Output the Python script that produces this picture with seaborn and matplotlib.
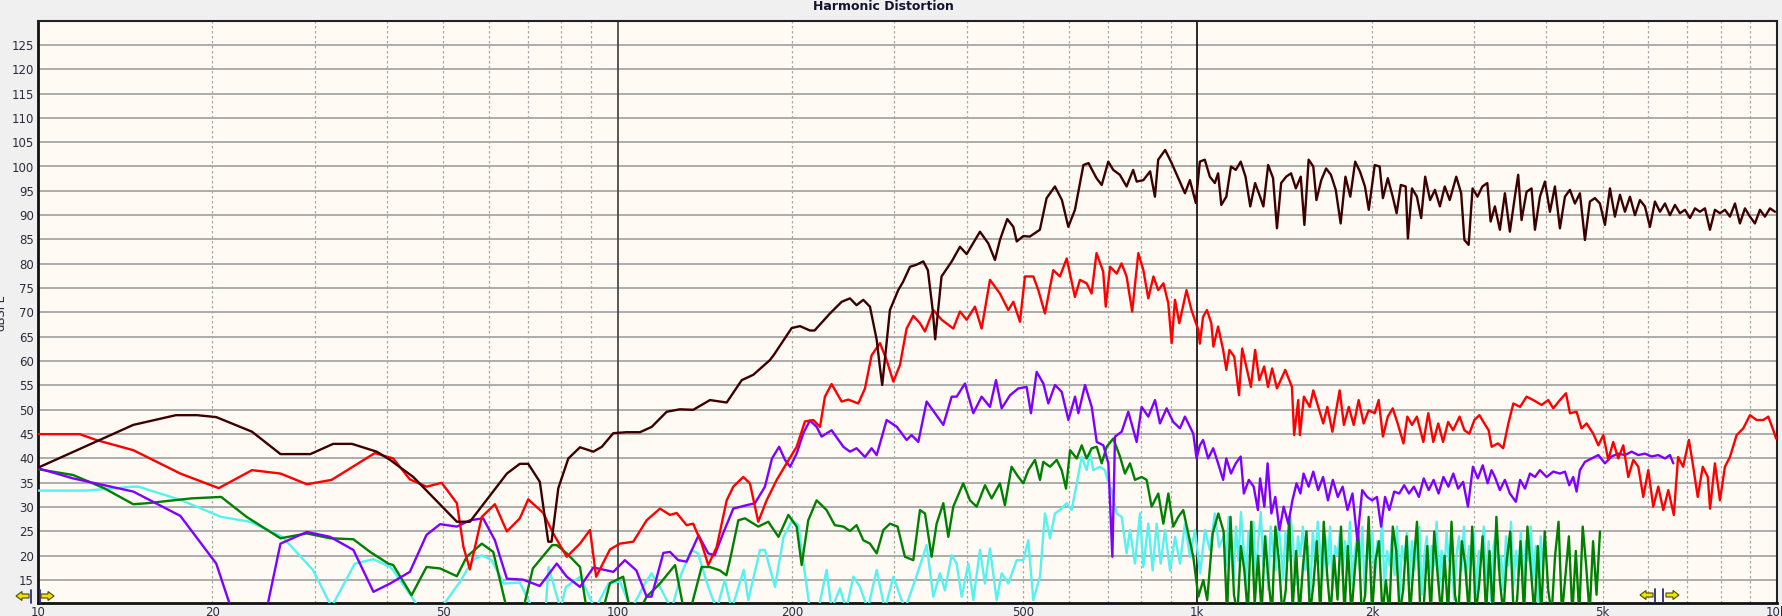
import numpy as np
import pandas as pd
import matplotlib
matplotlib.use("Agg")
import matplotlib.pyplot as plt
import seaborn as sns
from matplotlib.patches import Polygon
from matplotlib.lines import Line2D

# ---------------- data ----------------
x_ticks = [10, 20, 50, 100, 200, 500, 1000, 2000, 5000, 10000]
x_labels = ["10", "20", "50", "100", "200", "500", "1k", "2k", "5k", "10k"]
y_ticks = list(range(15, 130, 5))

# Fundamental (dark brown)
fund_f = [10, 14.6, 17.3, 18.8, 20.3, 23.4, 26.2, 29.5, 32.3, 34.8, 38.4, 40.5, 44.4, 52.8, 55.6, 64.4, 67.8,
          70.1, 73.4, 75.9, 76.9, 79, 82.2, 86.1, 90.8, 93.9, 98.3, 103.6, 109.3, 114.5, 121.5, 128, 135,
          144.3, 154.2, 163.7, 171.4, 183, 186, 199.6, 206.3, 214.6, 218.6, 232.4, 243.5, 251.6, 258.3,
          265.3, 272.4, 279.8, 283.3, 286, 289, 294.9, 304.8, 310.7, 319.4, 327.5, 336.7, 342.9, 349.5,
          353, 362, 377, 389.5, 400, 421.7, 435.9, 447.6, 456.5, 470, 481.5, 488, 501, 514, 535, 549.5,
          568, 584, 599, 615, 636, 649, 670, 684, 702, 716, 735, 755, 775, 786, 807, 829, 845, 856, 880,
          903, 927, 952, 971, 994]
fund_db = [38.1, 46.9, 48.9, 48.9, 48.5, 45.5, 40.9, 40.9, 43, 43, 41.4, 39.7, 36.2, 27, 27, 36.9, 38.9,
           38.9, 35.2, 22.9, 22.9, 33.9, 40, 42.3, 41.4, 42.4, 45.2, 45.4, 45.4, 46.5, 49.6, 50.1, 50,
           52, 51.5, 56.1, 57.2, 60.2, 61.3, 66.8, 67.2, 66.3, 66.3, 69.8, 72.2, 72.9, 71.5,
           72.6, 71.2, 64.4, 58.9, 55.1, 60.2, 70.5, 74.6, 76.3, 79.4, 79.8, 80.5, 78.7, 70.5,
           64.5, 77.4, 80.5, 83.5, 82, 86.6, 84.2, 80.8, 84.9, 89.2, 87.6, 84.6, 85.7, 85.6, 87, 93.5,
           95.9, 93.1, 87.6, 91.1, 100.3, 100.7, 97.6, 96.2, 101, 99.3, 98.3, 95.9, 99.3, 96.9, 97.2, 99,
           93.8, 101.4, 103.4, 100.7, 97.6, 94.5, 97.2, 92.5]
fund_hf_f = [1010, 1030, 1051, 1072, 1086, 1100, 1122, 1143, 1165, 1188, 1211, 1234, 1258, 1283, 1300,
             1325, 1351, 1372, 1395, 1423, 1451, 1479, 1508, 1530, 1556, 1585, 1605, 1636, 1668, 1700,
             1733, 1767, 1801, 1836, 1872, 1909, 1946, 1976, 2023, 2063, 2090, 2131, 2173, 2207, 2244,
             2288, 2308, 2346, 2392, 2433, 2472, 2521, 2570, 2621, 2672, 2725, 2797, 2852, 2889, 2938,
             2984, 3043, 3103, 3164, 3206,
             3261, 3326, 3393, 3461, 3530, 3577, 3625, 3698, 3772, 3823, 3900, 3978, 4058, 4139, 4222,
             4307, 4393, 4481, 4571, 4663, 4756, 4852, 4949, 5049, 5150, 5253, 5359, 5466, 5576, 5688,
             5802, 5918, 6037, 6158, 6282, 6408, 6536, 6667, 6801, 6937, 7077, 7219, 7363, 7511, 7662,
             7815, 7972, 8132, 8295, 8462, 8631, 8805, 8981, 9161, 9345, 9532, 9724, 9919]
fund_hf_db = [101, 101.4, 97.9, 96.6, 98.6, 92.1, 93.8, 100, 99.3, 101, 97.9, 91.8, 96.6, 93.8, 91.8,
              100.3, 97.6, 87.3, 96.6, 97.9, 98.6, 95.5, 97.9, 88, 101.4, 100, 93.1, 97.2, 99.6, 98.3,
              95.2, 88.3, 97.9, 93.8, 101, 98.9, 95.9, 91.1, 100.3, 100, 93.5, 97.6, 93.8, 90.4, 96.2,
              95.9, 85.2, 95.5, 93.8, 89.4, 97.9, 93.1, 95.2, 91.8, 95.9, 93.1, 97.9, 94.5, 84.9, 83.9,
              95.5, 93.8, 95.9, 96.6, 88.7,
              91.8, 87, 94.5, 86.6, 93.8, 98.3, 89, 94.8, 95.5, 87, 93.8, 96.9, 90.7, 95.9, 87.3,
              93.8, 95.2, 92.4, 94.5, 84.9, 92.8, 93.5, 92.4, 88, 95.5, 89.7, 94.2, 90.7, 93.8, 90,
              93.1, 91.8, 87.6, 92.8, 90.7, 92.4, 90, 92.1, 90.4, 91.1, 89.4, 91.4, 90.7, 91.4, 87,
              91.1, 90.4, 91.1, 89.7, 92.4, 88.3, 91.4, 89.7, 88.3, 91.1, 89.7, 91.4, 90.7]

# 2nd harmonic (red)
h2_f = [10, 11.8, 12.6, 14.6, 17.6, 20.5, 23.4, 26.2, 29.1, 32.1, 38.1, 41, 43.8, 46.8, 49.7, 52.8, 54.2,
        55.6, 58.3, 61.4, 64.4, 67.8, 70.1, 74.4, 77.4, 81.7, 86.1, 89.6, 91.8, 97, 100.9, 106.4, 112.2,
        118.3, 123.1, 126.4, 131.5, 135, 139.6, 143.3, 148.2, 154.2, 158.3, 164.7, 169.1, 174.8, 180.7,
        188.1, 195.6, 203.6, 210.4, 217.5, 223.4, 227.8, 233.9, 243.4, 249.9, 260.1, 267.1, 274.2,
        283.5, 291.1, 298.9, 306.9, 315.1, 323.6, 332.3, 338.9, 350.4, 362.2, 379.3, 389.5, 400, 413.4,
        424.5, 438.8, 456.5, 472, 481.5, 494.3, 504.2, 521.2, 531.7, 545.9, 564.3, 579.4, 595.2, 614.9,
        627.3, 644.2, 657, 670, 688, 695, 707, 726, 740, 755, 772, 791, 807, 823, 840, 856, 874, 891,
        903, 915, 931, 958, 977, 1004]
h2_db = [45, 45, 43.8, 41.7, 36.9, 33.9, 37.6, 36.9, 34.7, 35.6, 41.1, 40, 35.7, 34.2, 35, 30.8, 21.8,
         17.2, 28, 30.6, 25, 27.7, 31.6, 28.8, 24.6, 19.8, 22.5, 25.3, 15.7, 21.3, 22.5, 22.9, 27.3,
         29.7, 28.4, 28.8, 26.3, 26.6, 22.5, 18.1, 21.8, 31.4, 34.2, 36.2, 34.9, 27, 31.4,
         35.6, 39, 42.4, 47.6, 47.9, 46.5, 52.7, 55.3, 51.7, 52.1, 51.3, 54.4, 61.2,
         63.7, 60.2, 55.8, 59.2, 66.7, 69.3, 67.8, 66.1, 70.5, 68.5, 66.7, 70.2, 68.5, 71.2,
         66.7, 76.7, 73.9, 70.5, 72.2, 68.1, 77.4, 77.4, 74.6, 69.8, 78.7, 77.4, 81.1, 73.2,
         76.7, 76, 73.9, 82.2, 78.4, 71.2, 79.4, 78, 80.1, 77.4, 70.2, 82.2, 78.7, 72.9, 77.4, 74.6, 76, 71.9,
         63.7, 72.6, 67.8, 74.6, 70.5, 66.4]
h2_hf_f = [1010, 1023, 1039, 1057, 1066, 1086, 1108, 1122, 1136, 1158, 1180, 1195, 1218, 1237, 1258,
           1279, 1304, 1324, 1346, 1372, 1418, 1456, 1469, 1493, 1503, 1527, 1563, 1585, 1623, 1649,
           1676, 1710, 1744, 1760, 1790, 1825, 1861, 1898, 1936, 1975, 2023, 2055, 2090, 2131, 2173,
           2216, 2268, 2303, 2346, 2392, 2454, 2503, 2553, 2604, 2654, 2708, 2762, 2834, 2889, 2946,
           3006, 3066, 3127, 3181, 3219,
           3301, 3370, 3440, 3509, 3604, 3698, 3798, 3926, 4030, 4112, 4222, 4325, 4393, 4511, 4600,
           4694, 4819, 4918, 5016, 5116, 5218, 5323, 5430, 5539, 5650, 5764, 5879, 5997, 6117, 6240,
           6366, 6493, 6637, 6751, 6888, 7047, 7155, 7299, 7446, 7596, 7665, 7815, 7972, 8132, 8295,
           8518, 8747, 8981, 9223, 9469, 9660, 9856, 9962]
h2_hf_db = [63.6, 69.1, 70.5, 67.8, 63, 67.1, 62.3, 58.2, 62.3, 60.9, 53, 62.6, 58.2, 54.7, 62.3,
            56.1, 58.9, 54.7, 58.5, 54.4, 58.2, 54.7, 44.8, 52, 44.8, 52.7, 50.6, 54, 49.9, 47.2,
            50.6, 45.5, 51.3, 54, 46.9, 50.6, 46.9, 52, 47.2, 49.9, 49.3, 52, 44.5, 48.6, 50.3,
            47.2, 43.1, 48.6, 46.9, 48.6, 43.4, 49.3, 43.4, 47.2, 43.4, 47.5, 45.8, 48.6, 45.8, 45.1,
            47.9, 48.9, 47.2, 45.8, 42.4,
            43.1, 42.1, 47.2, 51.3, 50.6, 52.7, 52, 51, 52, 50.3, 52, 53.4, 49.3, 49.6, 46.2,
            47.2, 45.1, 42.7, 44.8, 39.7, 43.4, 40, 42.7, 36.2, 39.7, 38.3, 32.1, 37.6, 30.1, 34.2,
            29.4, 33.5, 28.4, 40.3, 38.3, 43.8, 39, 32.1, 38.3, 36.2, 29.7, 39, 31.4, 38.3, 40.3,
            44.8, 46.2, 48.9, 47.9, 47.9, 48.6, 45.8, 44.1]

# 3rd harmonic (purple)
h3_f = [10, 11.5, 14.6, 17.6, 20.3, 21.7, 24.7, 26.2, 29.1, 31.9, 35, 37.9, 40.5, 43.8, 46.8, 49.4, 52.8,
        55.6, 58.6, 61.4, 64.4, 68.7, 73.4, 78.5, 81.7, 86.1, 90.8, 98.3, 102.9, 107.7, 112.2, 114.4,
        119.9, 123.1, 127.2, 131.5, 137.9, 143.3, 147, 152, 158.3, 166.9, 172.5, 179.5, 184.6, 189.9,
        194.4, 198.4, 203.6, 209.1, 214.6, 220.4, 224.8, 233.9, 245.1, 251.6, 258.3, 267.1, 274.2,
        279.8, 291.1, 303.1, 315.1, 321.4, 330.1, 341.2, 352.7, 364.6, 376.9, 384.4, 397.3, 410.7,
        424.5, 438.8, 449.4, 459.7, 475.2, 491.1, 507.6, 516.4, 528.2, 542.4, 553.3, 568.2, 583.4,
        599.2, 615.2, 623.4, 640.1, 657.3, 670.6, 688.5, 702.3, 713.5, 721.1, 740.4, 760.2, 785.8,
        801.5, 823, 845.3, 862, 885.1, 908.8, 933.3, 952, 984, 997]
h3_db = [38, 35.9, 33.2, 28.2, 18.4, 8, 8, 22.5, 24.9, 23.9, 21.2, 12.6, 14.3, 16.7, 24.3, 26.5, 26,
         27.3, 27.7, 23.2, 15.3, 15.1, 13.8, 18.4, 15.7, 13.6, 17.6, 16.7, 19.1, 17, 11.6, 11.6,
         20.6, 20.8, 19.1, 18.8, 24.2, 20.5, 20.1, 24.6, 29.7, 30.4, 30.8, 34.2, 40, 42.4,
         39.7, 38.3, 41, 45.2, 47.8, 46.5, 44.5, 45.8, 42.4, 41.4, 42.1, 40.3, 42.1,
         40.7, 47.9, 46.5, 43.8, 44.8, 43.4, 51.7, 49.3, 46.9, 52.7, 52.7, 55.4, 49.3,
         52.7, 50.6, 56.1, 50.3, 53, 54.4, 54.7, 49.3, 57.8, 55.4, 51.3, 55.1, 53.7,
         47.9, 52.7, 49.3, 55.1, 50.6, 43.4, 42.7, 39, 19.8, 44.5, 45.5, 49.6, 43.4,
         50.6, 48.6, 52, 47.2, 50.3, 47.5, 46.2, 48.6, 45.1, 40]
h3_hf_f = [1010, 1023, 1044, 1065, 1086, 1108, 1122, 1143, 1165, 1188, 1203, 1227, 1251, 1272, 1283,
           1305, 1322, 1342, 1363, 1386, 1409, 1435, 1459, 1483, 1506, 1525, 1556, 1585, 1616, 1648,
           1680, 1713, 1747, 1781, 1816, 1852, 1888, 1925, 1963, 2002, 2041, 2075, 2108, 2144, 2186,
           2230, 2274, 2318, 2364, 2411, 2458, 2507, 2556, 2607, 2658, 2711, 2764, 2818, 2874, 2930,
           2988, 3047, 3107, 3168, 3218,
           3261, 3326, 3393, 3461, 3544, 3604, 3675, 3748, 3823, 3900, 4004, 4112, 4222, 4307, 4381,
           4451, 4511, 4571, 4663, 4788, 4918, 5049, 5184, 5323, 5466, 5613, 5764, 5918, 6077, 6240,
           6408, 6536, 6624]
h3_hf_db = [42.7, 43.8, 40, 42.1, 39, 35.6, 40, 36.9, 39, 40.4, 32.8, 35.6, 34.2, 29.4, 35.9,
            30.1, 39, 28.7, 32.1, 25.3, 30.1, 26.6, 31.4, 34.9, 32.8, 36.9, 34.2, 37.3, 33.5, 36.2,
            31.4, 35.6, 32.1, 34.2, 29.4, 32.8, 23.2, 33.5, 32.1, 31.4, 32.1, 26, 32.1, 29.4, 33.2,
            32.8, 34.5, 32.8, 34.2, 32.1, 35.9, 33.5, 35.6, 32.8, 36.2, 34.2, 36.9, 33.8, 35.2, 30.1,
            38.3, 35.9, 38.6, 34.9, 37.6,
            36.2, 33.5, 35.6, 32.8, 31.1, 35.6, 33.8, 36.9, 36.2, 37.6, 36.2, 37.3, 36.9, 37.3, 34.5,
            36.2, 33.2, 37.6, 39.3, 40, 40.7, 39, 40.4, 41, 40.7, 41.4, 40.7, 41, 40.4, 40.7,
            40, 40.7, 39]

# 4th harmonic (green)
h4_f = [10, 11.5, 13, 14.6, 15.4, 18.4, 20.7, 22.9, 26.2, 29.1, 31.9, 35, 37.4, 40.2, 41, 44.1, 46.8,
        49.4, 52.8, 54.9, 58.3, 61, 64.4, 68.7, 71.4, 77.1, 78.5, 81.7, 86.1, 88.4, 94.4, 97, 102.2,
        105, 109.3, 112.2, 118.3, 125.6, 130, 133.6, 139.6, 144.2, 150, 154, 156.2, 161.5, 165.8,
        174.8, 181.9, 189.4, 197, 203.6, 207.7, 213.2, 220.4, 229.3, 236.9, 245.1, 251.6, 258.3,
        265.3, 272.4, 279.8, 287.3, 295, 304, 313, 323.6, 332.3, 339, 348, 355, 364.6, 371.9, 379.3,
        394.6, 405.3, 416.2, 430.2, 441.7, 456.5, 465.6, 478.1, 491.1, 501, 511, 524.7, 535.3, 542.4,
        557, 572, 583.4, 593.6, 603.2, 619.4, 631.8, 644.2, 657.3, 670.6, 683.9, 697.6, 716.1, 735.4,
        750.1, 765.3, 780.6, 801.5, 817.6, 834, 856.3, 873.7, 891.2, 908.8, 927.1, 945.6, 964.7, 984,
        1004, 1024, 1040, 1063, 1087]
h4_db = [37.8, 36.6, 33.9, 30.6, 30.8, 31.8, 32.1, 28, 23.6, 24.6, 23.6, 23.4, 20.8, 18.4, 18.1, 11.9, 17.7,
         17.4, 15.8, 19.8, 22.5, 20.8, 9, 9, 17.4, 22.2, 22.2, 20.5, 17.7, 9, 9, 14.4, 15.7,
         9, 9, 11.6, 14.3, 18.1, 9, 9, 17.7, 17.7, 17, 16, 19.1, 27.3, 27.7,
         26, 27, 23.9, 28.4, 26, 18.1, 27.3, 31.4, 29.4, 26.3, 26, 25.1, 26.3,
         23.2, 22.5, 20.5, 25.3, 26.6, 26, 19.8, 19.1, 29.4, 28.7, 19.8, 26.6, 30.8, 23.9, 30.1,
         34.9, 31.4, 30.1, 34.5, 31.8, 34.9, 30.4, 38.3, 36.2, 34.9, 37.6, 39.7, 35.6, 39.3,
         38.3, 39.7, 37.6, 33.8, 41.7, 40, 42.7, 40, 42.1, 42.4, 39, 42.4, 44.1, 40.4,
         36.9, 39, 35.6, 36.2, 35.6, 30.1, 32.8, 26.6, 32.8, 26, 28, 29.4, 24.6, 19.8,
         11.6, 15, 10.9, 24.6, 28.7]
h4_hf_db = [25, 8, 28, 12, 8, 22, 17, 8, 27, 10, 20, 8, 24, 15, 8, 26, 19, 8, 13, 28, 9, 21, 8, 18, 25,
            8, 14, 23, 8, 27, 16, 8, 20, 11, 26, 8, 22, 8, 17, 25, 8, 12, 28, 8, 19, 23, 8, 15, 8, 26,
            21, 8, 13, 24, 8, 18, 27, 8, 10, 22, 8, 25, 16, 8, 20, 8, 27, 12, 8, 23, 18, 8, 26, 8, 14,
            24, 8, 21, 8, 28, 15, 8, 19, 25, 8, 11, 23, 8, 26, 17, 8, 22, 8, 25, 13, 8, 20, 27, 8, 16,
            24, 8, 21, 8, 26, 18, 8, 23, 12, 25]
h4_hf_range = (1110, 4950)

# 5th harmonic (cyan)
h5_f = [10, 12.1, 14.6, 14.9, 17.6, 20.7, 23.2, 26.4, 29.8, 32.1, 35.2, 37.9, 40.5, 41, 44.1, 45.6, 49.4,
        53.5, 56.2, 58.3, 60.6, 63.6, 67.8, 71.4, 75.1, 76, 79.7, 81.4, 86.2, 91.4, 96.4, 100.9, 105.6,
        111.4, 114.4, 119, 123.9, 128.9, 134, 137.6, 143.3, 148.2, 153, 157.3, 165, 168, 176, 179.5,
        186.8, 193.3, 200, 205, 209, 214.6, 222, 229.3, 233.9, 241.8, 248, 255, 262, 270, 279.8, 289,
        299, 313, 327.5, 341.2, 350.4, 359.7, 366.9, 376.9, 384.4, 392.2, 402.7, 410.7, 421.7, 430.2,
        438.8, 450.6, 459.7, 472, 487.9, 501, 511, 521.2, 535.3, 545.9, 557, 568.2, 579.4, 595.2, 607.1,
        619.4, 631.8, 644.2, 653, 661.6, 679.2, 692.9, 702.3, 711.4, 725.6, 740.4, 755.1, 765.3, 780.6,
        796.2, 806.9, 823, 837.4, 850.8, 864.5, 879.5, 897.3, 915.3, 933.3, 952, 971.2, 990.6, 1011,
        1031, 1051, 1072, 1090]
h5_db = [33.4, 33.4, 34.2, 34.2, 31.5, 28, 27, 23.9, 17.1, 9.5, 18.4, 19.3, 17.7, 17, 11.6, 9, 9,
         14.7, 19.1, 20.1, 19.1, 14.3, 14.5, 9, 9, 17.7, 9, 13.6, 15.7, 9, 14.3, 14.7, 9,
         14.3, 16.4, 13, 9, 16.4, 21.2, 20.5, 13.6, 9, 15, 9, 17.1, 10.9, 21.2, 21.2,
         13.6, 23.9, 27.3, 26.3, 18.8, 9, 9, 17.1, 9, 13.3, 9, 15.7, 13.6, 9, 17.1, 9,
         15.7, 9, 15.7, 22.2, 11.6, 16.4, 12.9, 20.1, 18.4, 11.6, 18.4, 10.9, 21.2, 14.3,
         21.5, 10.9, 16.4, 14.3, 19.1, 19.1, 23.2, 10.9, 15.7, 28.7, 23.6, 28.7, 29.4, 30.8, 29.4,
         34.9, 40.3, 37.6, 41, 37.6, 38.3, 37.6, 34.9, 33.5, 28.7, 28, 20.5, 25.3, 18.4,
         28.7, 17.7, 26.6, 17, 26.6, 18.4, 25.3, 17, 23.9, 18.4, 26.6, 19.8, 25.3, 16.4,
         25.3, 21.2, 28.7, 21.8]
h5_hf_db = [24, 18, 28, 21, 15, 26, 19, 29, 22, 14, 25, 20, 27, 16, 23, 29, 18, 24, 13, 26,
            21, 17, 27, 22, 15, 25, 19, 28, 23, 14, 24, 20, 26, 17, 22, 12, 25, 19, 27, 21,
            15, 24, 18, 26, 13, 22, 20, 25, 16, 23, 19, 27, 14, 21, 24, 17, 26, 12, 22, 19,
            25, 15, 23, 20, 27, 13, 21, 18, 24, 16, 26, 11, 22, 19, 25, 14, 23, 17, 21, 26,
            12, 20, 24, 16, 22, 18, 27, 13, 21, 15, 25, 19, 23, 11, 20, 24, 17, 26, 14, 22,
            18, 25, 12, 21, 19, 26, 15, 23, 10, 22, 25, 17, 20, 13, 24, 18, 27, 14, 21, 16,
            25, 12, 23, 19, 26, 15, 22, 10, 24, 18]
h5_hf_range = (1110, 3950)

# ---------------- assemble ----------------
def check(a, b, name):
    if len(a) != len(b):
        raise ValueError(f"{name}: {len(a)} vs {len(b)}")

check(fund_f, fund_db, "fund"); check(fund_hf_f, fund_hf_db, "fund_hf")
check(h2_f, h2_db, "h2"); check(h2_hf_f, h2_hf_db, "h2_hf")
check(h3_f, h3_db, "h3"); check(h3_hf_f, h3_hf_db, "h3_hf")
check(h4_f, h4_db, "h4"); check(h5_f, h5_db, "h5")

h4_hf_f = list(np.geomspace(h4_hf_range[0], h4_hf_range[1], len(h4_hf_db)))
h5_hf_f = list(np.geomspace(h5_hf_range[0], h5_hf_range[1], len(h5_hf_db)))

series = [
    ("H5", h5_f + h5_hf_f, h5_db + h5_hf_db, "#55F2EF"),
    ("H4", h4_f + h4_hf_f, h4_db + h4_hf_db, "#008000"),
    ("H3", h3_f + h3_hf_f, h3_db + h3_hf_db, "#8000FF"),
    ("H2", h2_f + h2_hf_f, h2_db + h2_hf_db, "#FF0000"),
    ("Fund", fund_f + fund_hf_f, fund_db + fund_hf_db, "#3C0000"),
]

# ---------------- figure ----------------
sns.set_theme(style="white")
plt.rcParams["font.family"] = ["DejaVu Sans"]

W, H = 1782, 616
fig = plt.figure(figsize=(W / 100, H / 100), dpi=100, facecolor="#F0F0F0")
ax = fig.add_axes([38 / W, 1 - 603 / H, (1777 - 38) / W, (603 - 21) / H])
ax.set_facecolor("#FFFAF3")
ax.set_xscale("log")

for yv in y_ticks:
    ax.axhline(yv, color="#A6A6A6", lw=1.3, zorder=1)
for dec in (10, 100, 1000):
    for m in range(2, 10):
        ax.axvline(dec * m, color="#A8A8A8", lw=0.9, ls=(0, (2, 2)), zorder=1)
ax.axvline(100, color="#4A4A4A", lw=1.3, zorder=1)
ax.axvline(1000, color="#1A1A1A", lw=1.3, zorder=1)

for name, f, d, col in series:
    df = pd.DataFrame({"freq": f, "db": d})
    sns.lineplot(data=df, x="freq", y="db", ax=ax, color=col, lw=1.7,
                 estimator=None, sort=False, legend=False, zorder=3)

ax.set_xlim(10, 10000)
ax.set_ylim(10.3, 129.9)
ax.set_xlabel("")
ax.set_ylabel("")
ax.set_xticks(x_ticks)
ax.set_xticklabels(x_labels)
ax.xaxis.set_minor_locator(matplotlib.ticker.NullLocator())
ax.set_yticks(y_ticks)
ax.set_yticklabels([str(v) for v in y_ticks])
ax.tick_params(axis="both", length=0, labelsize=8.5, labelcolor="#2B2B3B")
ax.tick_params(axis="x", pad=2.5)
ax.tick_params(axis="y", pad=3)
ax.grid(False)

for side, lw, c in (("left", 2.0, "#111111"), ("bottom", 2.0, "#111111"),
                    ("top", 1.5, "#222222"), ("right", 1.5, "#222222")):
    ax.spines[side].set_visible(True)
    ax.spines[side].set_linewidth(lw)
    ax.spines[side].set_color(c)

# title and axis label
fig.text(883 / W, 1 - 10 / H, "Harmonic Distortion", ha="center", va="baseline",
         fontsize=9, fontweight="bold", color="#141432")
fig.text(0.5 / W, 1 - 313 / H, "dBSPL", rotation=90, ha="center", va="center",
         fontsize=8.5, color="#2B2B3B")

# cursor arrow icons
def arrow(x_tip, yc, direction):
    d = direction
    L, hl, hw, sw = 13, 6, 4.5, 2.0
    pts = [(x_tip, yc), (x_tip - d * hl, yc - hw), (x_tip - d * hl, yc - sw),
           (x_tip - d * L, yc - sw), (x_tip - d * L, yc + sw), (x_tip - d * hl, yc + sw),
           (x_tip - d * hl, yc + hw)]
    pts = [(x / W, 1 - y / H) for x, y in pts]
    fig.add_artist(Polygon(pts, closed=True, transform=fig.transFigure,
                           facecolor="#F2E400", edgecolor="#4A4A00", lw=0.8, zorder=10))

def bar(x, yc):
    fig.add_artist(Line2D([x / W, x / W], [1 - (yc - 6.5) / H, 1 - (yc + 6.5) / H],
                          transform=fig.transFigure, color="#2A2A8A", lw=1.3, zorder=10))

arrow(16, 596, -1); bar(31, 596); bar(39.5, 596); arrow(54, 596, 1)
arrow(1640, 595, -1); bar(1655, 595); bar(1663, 595); arrow(1679, 595, 1)

fig.savefig("out.png", dpi=100, facecolor=fig.get_facecolor())
